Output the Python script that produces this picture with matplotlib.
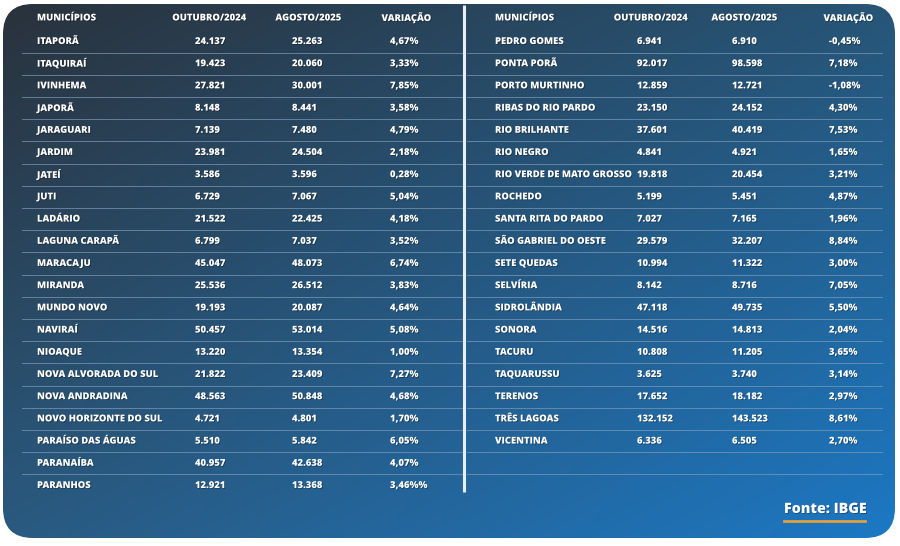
import numpy as np
import matplotlib
matplotlib.use("Agg")
import matplotlib.pyplot as plt
import matplotlib.patheffects as pe
from matplotlib.patches import FancyBboxPatch

# left table
mun_left = ["ITAPORÃ", "ITAQUIRAÍ", "IVINHEMA", "JAPORÃ", "JARAGUARI", "JARDIM",
            "JATEÍ", "JUTI", "LADÁRIO", "LAGUNA CARAPÃ", "MARACAJU", "MIRANDA",
            "MUNDO NOVO", "NAVIRAÍ", "NIOAQUE", "NOVA ALVORADA DO SUL",
            "NOVA ANDRADINA", "NOVO HORIZONTE DO SUL", "PARAÍSO DAS ÁGUAS",
            "PARANAÍBA", "PARANHOS"]
out_left = [24137, 19423, 27821, 8148, 7139, 23981, 3586, 6729, 21522, 6799, 45047,
            25536, 19193, 50457, 13220, 21822, 48563, 4721, 5510, 40957, 12921]
ago_left = [25263, 20060, 30001, 8441, 7480, 24504, 3596, 7067, 22425, 7037, 48073,
            26512, 20087, 53014, 13354, 23409, 50848, 4801, 5842, 42638, 13368]
var_left = ["4,67%", "3,33%", "7,85%", "3,58%", "4,79%", "2,18%", "0,28%", "5,04%",
            "4,18%", "3,52%", "6,74%", "3,83%", "4,64%", "5,08%", "1,00%", "7,27%",
            "4,68%", "1,70%", "6,05%", "4,07%", "3,46%%"]

# right table
mun_right = ["PEDRO GOMES", "PONTA PORÃ", "PORTO MURTINHO", "RIBAS DO RIO PARDO",
             "RIO BRILHANTE", "RIO NEGRO", "RIO VERDE DE MATO GROSSO", "ROCHEDO",
             "SANTA RITA DO PARDO", "SÃO GABRIEL DO OESTE", "SETE QUEDAS",
             "SELVÍRIA", "SIDROLÂNDIA", "SONORA", "TACURU", "TAQUARUSSU",
             "TERENOS", "TRÊS LAGOAS", "VICENTINA"]
out_right = [6941, 92017, 12859, 23150, 37601, 4841, 19818, 5199, 7027, 29579, 10994,
             8142, 47118, 14516, 10808, 3625, 17652, 132152, 6336]
ago_right = [6910, 98598, 12721, 24152, 40419, 4921, 20454, 5451, 7165, 32207, 11322,
             8716, 49735, 14813, 11205, 3740, 18182, 143523, 6505]
var_right = ["-0,45%", "7,18%", "-1,08%", "4,30%", "7,53%", "1,65%", "3,21%", "4,87%",
             "1,96%", "8,84%", "3,00%", "7,05%", "5,50%", "2,04%", "3,65%", "3,14%",
             "2,97%", "8,61%", "2,70%"]

headers = ["MUNICÍPIOS", "OUTUBRO/2024", "AGOSTO/2025", "VARIAÇÃO"]
source = "Fonte: IBGE"


def fmt(n):
    return f"{n:,}".replace(",", ".")


W, H = 900, 546
fig = plt.figure(figsize=(9, 5.46), dpi=100)
ax = fig.add_axes([0, 0, 1, 1])
ax.set_xlim(0, W)
ax.set_ylim(H, 0)
ax.axis("off")
fig.patch.set_facecolor("white")

# gradient panel
x0, y0, x1, y1 = 3, 4, 895, 538
tl = np.array([0x2a, 0x32, 0x3c]) / 255
tr = np.array([0x27, 0x55, 0x77]) / 255
bl = np.array([0x2a, 0x5a, 0x80]) / 255
br = np.array([0x1c, 0x78, 0xc4]) / 255
u = np.linspace(0, 1, 300)[None, :, None]
v = np.linspace(0, 1, 200)[:, None, None]
img = (1 - u) * (1 - v) * tl + u * (1 - v) * tr + (1 - u) * v * bl + u * v * br
panel = FancyBboxPatch((x0, y0), x1 - x0, y1 - y0,
                       boxstyle="round,pad=0,rounding_size=30",
                       facecolor="none", edgecolor="none")
ax.add_patch(panel)
im = ax.imshow(img, extent=[x0, x1, y1, y0], aspect="auto", zorder=1)
im.set_clip_path(panel)

font = "Open Sans"
fs = 6.8
row0, dy = 41.5, 22.2
line_col = "#7d9bbb"
shadow = [pe.withSimplePatchShadow(offset=(0.6, -0.6), shadow_rgbFace="black", alpha=0.35)]
style = dict(color="white", fontsize=fs, fontweight="heavy", family=font,
             va="center", zorder=3, path_effects=shadow)


def draw_table(names, outs, agos, vars_, xname, xvals, hcenters, lx0, lx1):
    ax.text(xname, 18, headers[0], ha="left", **style)
    for h, xc in zip(headers[1:], hcenters):
        ax.text(xc, 18, h, ha="center", **style)
    for i, name in enumerate(names):
        y = row0 + i * dy
        ax.text(xname, y, name, ha="left", **style)
        for xv, s in zip(xvals, [fmt(outs[i]), fmt(agos[i]), vars_[i]]):
            ax.text(xv, y, s, ha="left", **style)
    for i in range(20):
        y = row0 + dy / 2 + i * dy
        ax.plot([lx0, lx1], [y, y], color=line_col, lw=0.7, alpha=0.7, zorder=2)


draw_table(mun_left, out_left, ago_left, var_left, 37, [195, 292, 390],
           [209.5, 308.5, 406.5], 22, 462)
draw_table(mun_right, out_right, ago_right, var_right, 495, [637, 732, 829],
           [651, 744.5, 848.5], 467, 882)

# divider
ax.plot([464, 464], [5, 492], color="#e8eef5", lw=2.2, zorder=3,
        solid_capstyle="butt")

# source
ax.text(784, 509, source, color="white", fontsize=10.3, fontweight="heavy",
        family=font, va="center", ha="left", zorder=3, path_effects=shadow)
ax.plot([784, 865], [521, 521], color="#e0a040", lw=2, zorder=3)

fig.savefig("out.png", dpi=100, facecolor="white")
